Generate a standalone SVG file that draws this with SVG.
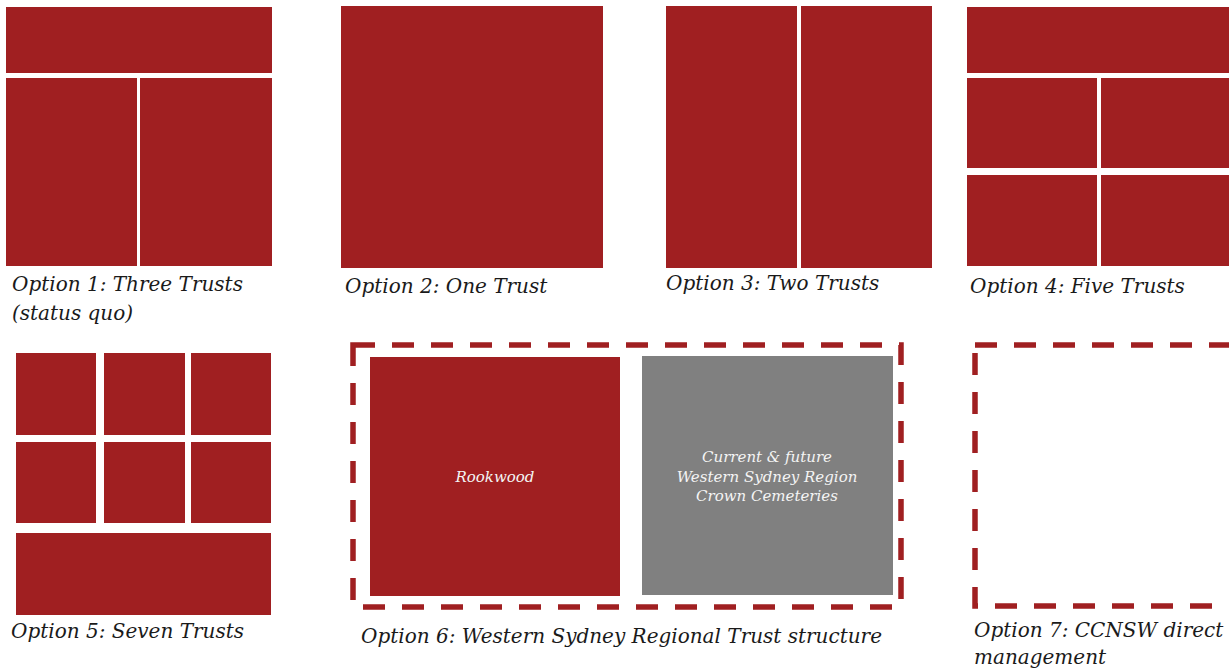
<svg xmlns="http://www.w3.org/2000/svg" width="1229" height="670" viewBox="0 0 1229 670">
  <style>
    .trust { fill: #a01f21; }
    .region { fill: #808080; }
    .frame { fill: none; stroke: #a01f21; stroke-width: 5.5; stroke-dasharray: 22 17; }
    .cap { font-family: "DejaVu Serif", "Liberation Serif", serif; font-style: italic; font-size: 20px; fill: #1a1a1a; }
    .inner { font-family: "DejaVu Serif", "Liberation Serif", serif; font-style: italic; font-size: 15px; fill: #f4f4f4; text-anchor: middle; }
  </style>
  <rect width="1229" height="670" fill="#ffffff"/>

  <!-- Option 1: three trusts -->
  <g id="option1">
    <rect class="trust" x="6" y="7" width="266" height="66"/>
    <rect class="trust" x="6" y="78" width="131" height="188"/>
    <rect class="trust" x="140" y="78" width="132" height="188"/>
    <text class="cap" x="12" y="291">Option 1: Three Trusts</text>
    <text class="cap" x="12" y="320">(status quo)</text>
  </g>

  <!-- Option 2: one trust -->
  <g id="option2">
    <rect class="trust" x="341" y="6" width="262" height="262"/>
    <text class="cap" x="345" y="293">Option 2: One Trust</text>
  </g>

  <!-- Option 3: two trusts -->
  <g id="option3">
    <rect class="trust" x="666" y="6" width="131" height="262"/>
    <rect class="trust" x="801" y="6" width="131" height="262"/>
    <text class="cap" x="666" y="290">Option 3: Two Trusts</text>
  </g>

  <!-- Option 4: five trusts -->
  <g id="option4">
    <rect class="trust" x="967" y="7" width="262" height="66"/>
    <rect class="trust" x="967" y="78" width="130" height="90"/>
    <rect class="trust" x="1101" y="78" width="128" height="90"/>
    <rect class="trust" x="967" y="175" width="130" height="91"/>
    <rect class="trust" x="1101" y="175" width="128" height="91"/>
    <text class="cap" x="970" y="293">Option 4: Five Trusts</text>
  </g>

  <!-- Option 5: seven trusts -->
  <g id="option5">
    <rect class="trust" x="16" y="353" width="80" height="82"/>
    <rect class="trust" x="104" y="353" width="81" height="82"/>
    <rect class="trust" x="191" y="353" width="80" height="82"/>
    <rect class="trust" x="16" y="442" width="80" height="81"/>
    <rect class="trust" x="104" y="442" width="81" height="81"/>
    <rect class="trust" x="191" y="442" width="80" height="81"/>
    <rect class="trust" x="16" y="533" width="255" height="82"/>
    <text class="cap" x="11" y="638">Option 5: Seven Trusts</text>
  </g>

  <!-- Option 6: Western Sydney regional structure -->
  <g id="option6">
    <rect class="frame" x="353" y="345" width="548" height="262"/>
    <rect class="trust" x="370" y="357" width="250" height="239"/>
    <rect class="region" x="642" y="356" width="251" height="239"/>
    <text class="inner" x="495" y="482">Rookwood</text>
    <text class="inner" x="767" y="462">Current &amp; future</text>
    <text class="inner" x="767" y="482">Western Sydney Region</text>
    <text class="inner" x="767" y="501">Crown Cemeteries</text>
    <text class="cap" x="361" y="643">Option 6: Western Sydney Regional Trust structure</text>
  </g>

  <!-- Option 7: direct management -->
  <g id="option7">
    <rect class="frame" x="975" y="345" width="300" height="261"/>
    <text class="cap" x="974" y="637">Option 7: CCNSW direct</text>
    <text class="cap" x="974" y="664">management</text>
  </g>
</svg>
